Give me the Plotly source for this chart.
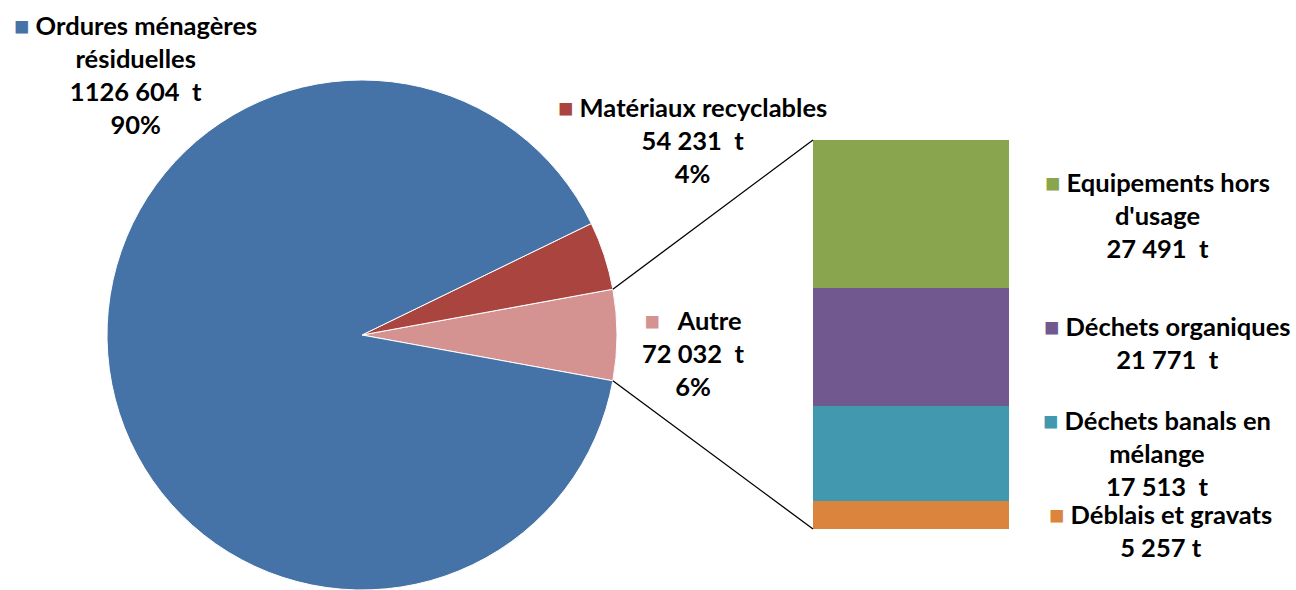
import math
import plotly.graph_objects as go

# ---- data ----
pie_labels = ["Autre", "Matériaux recyclables", "Ordures ménagères résiduelles"]
pie_values = [72032, 54231, 1126604]
pie_pct = ["6%", "4%", "90%"]
pie_colors = ["#D49391", "#A9443F", "#4572A7"]

bar_labels = ["Déblais et gravats", "Déchets banals en mélange", "Déchets organiques", "Equipements hors d'usage"]
bar_values = [5257, 17513, 21771, 27491]
bar_colors = ["#DB843D", "#4198AF", "#71588F", "#89A54E"]

W, H = 1296, 590
FONT = "Lato"
FS = 25.5

# ---- layout geometry ----
pie_cx, pie_cy, pie_r = 362, 335, 255          # pixels (from top)
pie_dom_x = [(pie_cx - pie_r) / W, (pie_cx + pie_r) / W]
pie_dom_y = [(H - pie_cy - pie_r) / H, (H - pie_cy + pie_r) / H]
bar_dom_x = [813 / W, 1009 / W]
bar_dom_y = [(H - 529) / H, (H - 140) / H]

total = sum(pie_values)
autre_deg = pie_values[0] / total * 360.0
rotation = 90 - autre_deg / 2   # plotly: counterclockwise first slice ends at rotation

fig = go.Figure()
fig.add_trace(go.Pie(
    labels=pie_labels, values=pie_values, sort=False, direction="counterclockwise",
    rotation=rotation, textinfo="none", hoverinfo="label+value",
    marker=dict(colors=pie_colors, line=dict(color="white", width=1)),
    domain=dict(x=pie_dom_x, y=pie_dom_y), showlegend=False,
))

for lab, val, col in zip(bar_labels, bar_values, bar_colors):
    fig.add_trace(go.Bar(x=[0], y=[val], name=lab, marker=dict(color=col, line=dict(width=0)),
                         width=1, showlegend=False, hoverinfo="name+y"))

# connector lines computed from pie geometry and bar corners
for sign, by in ((1, bar_dom_y[1]), (-1, bar_dom_y[0])):
    a = math.radians(sign * autre_deg / 2)
    px = pie_cx + pie_r * math.cos(a)
    py = pie_cy - pie_r * math.sin(a)
    fig.add_shape(type="line", xref="paper", yref="paper",
                  x0=px / W, y0=(H - py) / H, x1=bar_dom_x[0], y1=by,
                  line=dict(color="black", width=1.3))

def fmt(v):
    return f"{v // 1000} {v % 1000:03d}"

def sq(c):
    return f'<span style="color:{c}">■</span> '

ann = [
    # (x_center px, y_center px, text)
    (135, 74, sq(pie_colors[2]) + "Ordures ménagères<br>résiduelles<br>" + fmt(pie_values[2]) + "  t<br>" + pie_pct[2]),
    (692, 140, sq(pie_colors[1]) + "Matériaux recyclables<br>" + fmt(pie_values[1]) + "  t<br>" + pie_pct[1]),
    (693, 353, sq(pie_colors[0]) + "  Autre<br>" + fmt(pie_values[0]) + "  t<br>" + pie_pct[0]),
    (1157, 215, sq(bar_colors[3]) + "Equipements hors<br>d'usage<br>" + fmt(bar_values[3]) + "  t"),
    (1167, 342, sq(bar_colors[2]) + "Déchets organiques<br>" + fmt(bar_values[2]) + "  t"),
    (1157, 453, sq(bar_colors[1]) + "Déchets banals en<br>mélange<br>" + fmt(bar_values[1]) + "  t"),
    (1160, 530, sq(bar_colors[0]) + "Déblais et gravats<br>" + fmt(bar_values[0]) + " t"),
]
for x, y, t in ann:
    fig.add_annotation(x=x / W, y=(H - y) / H, xref="paper", yref="paper",
                       text="<b>" + t + "</b>", showarrow=False, align="center",
                       xanchor="center", yanchor="middle",
                       font=dict(family=FONT, size=FS, color="black"))

fig.update_layout(
    width=W, height=H, margin=dict(l=0, r=0, t=0, b=0),
    paper_bgcolor="white", plot_bgcolor="white", barmode="stack",
    xaxis=dict(domain=bar_dom_x, range=[-0.5, 0.5], visible=False, fixedrange=True),
    yaxis=dict(domain=bar_dom_y, range=[0, sum(bar_values)], visible=False, fixedrange=True),
    showlegend=False,
)

fig.write_html("out.html", config={"displayModeBar": False},
               post_script="document.body.style.margin='0';document.body.style.overflow='hidden';")
